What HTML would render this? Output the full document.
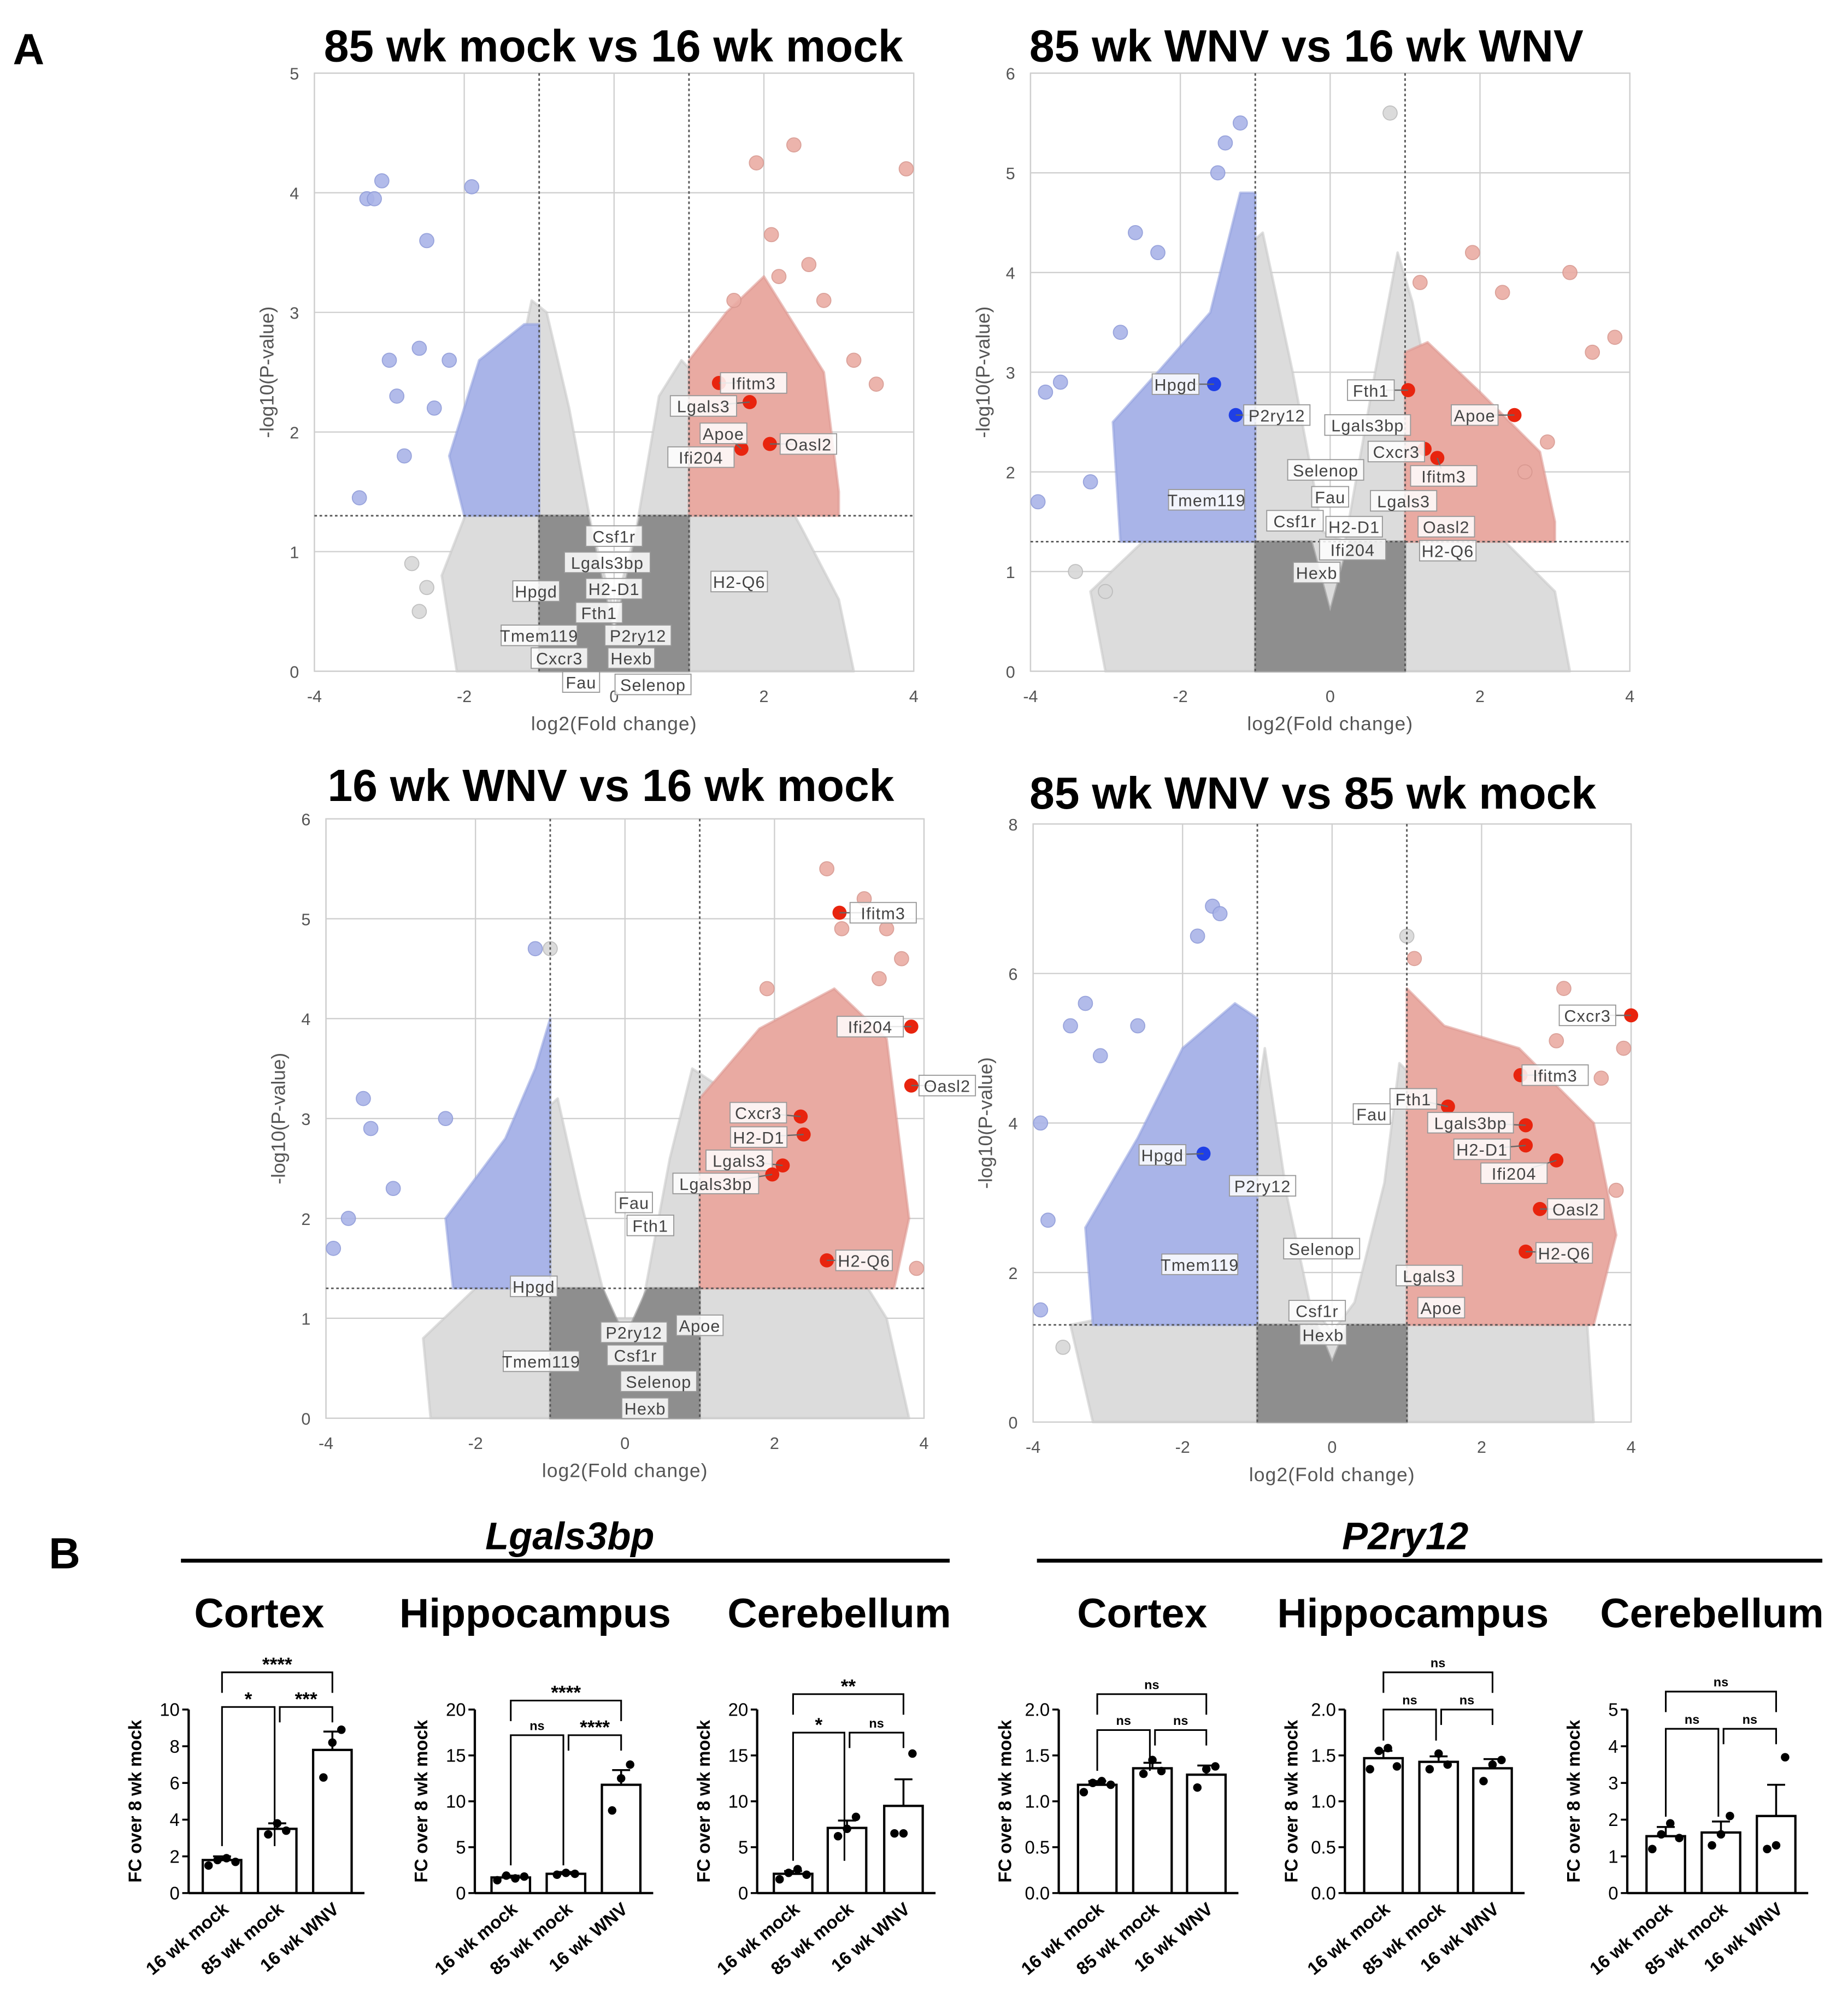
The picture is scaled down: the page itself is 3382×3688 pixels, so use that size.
<!DOCTYPE html>
<html><head><meta charset="utf-8">
<style>
html,body{margin:0;padding:0;background:#fff;}
svg{display:block;font-family:"Liberation Sans",sans-serif;}
</style></head>
<body>
<svg id="fig" xmlns="http://www.w3.org/2000/svg" width="3382" height="3688" viewBox="0 0 1440 1570" preserveAspectRatio="none">
<rect width="1440" height="1570" fill="#fff"/>
<text x="10" y="50" font-size="34" font-weight="bold">A</text>
<text x="38" y="1222" font-size="34" font-weight="bold">B</text>
<g id="volc"></g>
<g id="bars"></g>
</svg>
<script>
const NS='http://www.w3.org/2000/svg';
function mk(tag,attrs,parent,txt){const e=document.createElementNS(NS,tag);for(const k in attrs)e.setAttribute(k,attrs[k]);if(txt!==undefined)e.textContent=txt;parent.appendChild(e);return e;}

/* ---------- Volcano data ---------- */
const p1Titles="85 wk mock vs 16 wk mock";
const p2Titles="85 wk WNV vs 16 wk WNV";
const p3Titles="16 wk WNV vs 16 wk mock";
const p4Titles="85 wk WNV vs 85 wk mock";
const p1Genes=["Ifitm3","Lgals3","Apoe","Oasl2","Ifi204","Csf1r","Lgals3bp","H2-D1","Hpgd","Fth1","H2-Q6","Tmem119","P2ry12","Cxcr3","Hexb","Fau","Selenop"];
const p1X=[1.40,1.81,1.70,2.08,1.16,0,-0.09,0,-1.04,-0.2,1.67,-1,0.32,-0.73,0.23,-0.44,0.52];
const p1Y=[2.41,2.25,1.86,1.90,1.79,1.13,0.91,0.69,0.67,0.49,0.75,0.30,0.30,0.11,0.11,-0.09,-0.11];
const p1Hl=["r","r","r","r","","","","","","","","","","","","",""];
const p1Off=[[27,0],[-36,3],[-14,-12],[30,0]];
const p2Genes=["Hpgd","P2ry12","Fth1","Apoe","Cxcr3","Ifitm3","Lgals3bp","Selenop","Fau","Lgals3","Tmem119","Csf1r","H2-D1","Oasl2","Ifi204","H2-Q6","Hexb"];
const p2X=[-1.55,-1.26,1.04,2.46,1.26,1.43,0.5,-0.06,0,0.98,-1.65,-0.47,0.32,1.55,0.3,1.57,-0.18];
const p2Y=[2.88,2.57,2.82,2.57,2.23,2.14,2.47,2.02,1.75,1.71,1.72,1.51,1.45,1.45,1.22,1.21,0.99];
const p2Hl=["b","b","r","r","r","r","","","","","","","","","","",""];
const p2Off=[[-30,0],[32,0],[-29,0],[-31,0],[-22,2],[5,14]];
const p3Genes=["Ifitm3","Ifi204","Oasl2","Cxcr3","H2-D1","Lgals3","Lgals3bp","H2-Q6","Fau","Fth1","Hpgd","P2ry12","Apoe","Csf1r","Tmem119","Selenop","Hexb"];
const p3X=[2.87,3.83,3.83,2.35,2.39,2.11,1.97,2.70,0.12,0.34,-1.22,0.12,1.0,0.14,-1.12,0.45,0.27];
const p3Y=[5.06,3.92,3.33,3.02,2.84,2.53,2.44,1.58,2.16,1.93,1.32,0.86,0.93,0.63,0.57,0.37,0.10];
const p3Hl=["r","r","r","r","r","r","r","r","","","","","","","","",""];
const p3Off=[[34,0],[-32,0],[28,0],[-33,-3],[-35,2],[-34,-4],[-44,7],[29,0]];
const p4Genes=["Cxcr3","Ifitm3","Fth1","Lgals3bp","H2-D1","Ifi204","Oasl2","H2-Q6","Hpgd","Fau","P2ry12","Tmem119","Selenop","Lgals3","Apoe","Csf1r","Hexb"];
const p4X=[4.0,2.52,1.55,2.59,2.59,3.0,2.78,2.59,-1.72,0.53,-0.93,-1.77,-0.14,1.3,1.46,-0.2,-0.12];
const p4Y=[5.44,4.64,4.22,3.97,3.70,3.5,2.85,2.28,3.59,4.12,3.16,2.11,2.32,1.96,1.53,1.49,1.17];
const p4Hl=["r","r","r","r","r","r","r","r","b","","","","","","","",""];
const p4Off=[[-34,0],[27,0],[-27,-6],[-43,-2],[-34,3],[-33,10],[28,0],[30,1],[-32,1]];

/* density envelopes (traced shapes) */
const p1Light=[[-2.1,0],[-2.3,0.8],[-1.8,1.6],[-1.4,2.2],[-1.1,3.1],[-0.9,3.0],[-0.6,2.2],[-0.3,1.2],[0,0.5],[0.3,1.2],[0.6,2.3],[0.9,2.6],[1.2,2.4],[1.8,2.0],[2.5,1.2],[3,0.6],[3.2,0]];
const p1Blue=[[-2,1.3],[-2.2,1.8],[-1.8,2.6],[-1.2,2.9],[-1,2.9],[-1,1.3]];
const p1Red=[[1,1.3],[1,2.6],[1.5,3.0],[2,3.3],[2.8,2.5],[3,1.5],[3,1.3]];
const p1Dark=[[-1,0],[-1,1.3],[-0.35,1.3],[0,0.3],[0.35,1.3],[1,1.3],[1,0]];
const p2Light=[[-3,0],[-3.2,0.8],[-2.5,1.3],[-1.6,2.5],[-1.2,4.2],[-0.9,4.4],[-0.5,3],[-0.1,1.4],[0.2,1.3],[0.6,3],[0.9,4.2],[1.1,3.7],[1.4,2.5],[2.2,1.4],[3,0.8],[3.2,0]];
const p2Blue=[[-2.8,1.3],[-2.9,2.5],[-2.3,3.0],[-1.6,3.6],[-1.2,4.8],[-1,4.8],[-1,1.3]];
const p2Red=[[1,1.3],[1,3.2],[1.3,3.3],[2,2.8],[2.8,2.2],[3,1.5],[3,1.3]];
const p2Dark=[[-1,0],[-1,1.3],[-0.25,1.3],[0,0.6],[0.25,1.3],[1,1.3],[1,0]];
const p3Light=[[-2.6,0],[-2.7,0.8],[-2,1.3],[-1.2,3.0],[-0.9,3.2],[-0.6,2.2],[-0.2,1],[0.2,1.0],[0.6,2.6],[0.9,3.5],[1.3,3.3],[2.5,2.2],[3.5,1],[3.8,0]];
const p3Blue=[[-2.3,1.3],[-2.4,2.0],[-1.6,2.8],[-1.2,3.5],[-1,4.0],[-1,1.3]];
const p3Red=[[1,1.3],[1,3.2],[1.8,3.9],[2.8,4.3],[3.5,3.8],[3.8,2],[3.6,1.3]];
const p3Dark=[[-1,0],[-1,1.3],[-0.3,1.3],[0,0.8],[0.3,1.3],[1,1.3],[1,0]];
const p4Light=[[-3.2,0],[-3.5,1.3],[-2,1.6],[-1.2,3],[-0.9,5],[-0.6,3],[-0.3,1.6],[0,1.2],[0.3,1.6],[0.7,3.2],[0.9,4.8],[1.2,4.5],[2.2,3],[3.4,1.5],[3.5,0]];
const p4Blue=[[-3.2,1.3],[-3.3,2.6],[-2.6,3.8],[-2,5],[-1.3,5.6],[-1,5.4],[-1,1.3]];
const p4Red=[[1,1.3],[1,5.8],[1.5,5.3],[2.5,5.0],[3.5,4],[3.8,2.5],[3.5,1.3]];
const p4Dark=[[-1,0],[-1,1.3],[-0.2,1.3],[0,0.8],[0.2,1.3],[1,1.3],[1,0]];

/* sparse outlying points */
const p1SpX=[-3.3,-3.2,-3.1,-2.5,-1.9,-3.4,-2.9,-2.6,-2.4,-2.8,-3.0,-2.2,1.9,2.4,2.1,3.9,2.6,2.8,3.2,3.5,-2.7,-2.5,-2.6,2.2,1.6];
const p1SpY=[3.95,3.95,4.1,3.6,4.05,1.45,2.3,2.7,2.2,1.8,2.6,2.6,4.25,4.4,3.65,4.2,3.4,3.1,2.6,2.4,0.9,0.7,0.5,3.3,3.1];
const p2SpX=[-2.6,-2.3,-2.8,-3.6,-3.8,-3.2,-1.4,-1.2,-1.5,1.9,2.3,3.2,3.8,3.5,-3.9,-3.0,-3.4,0.8,1.2,2.6,2.9];
const p2SpY=[4.4,4.2,3.4,2.9,2.8,1.9,5.3,5.5,5.0,4.2,3.8,4.0,3.35,3.2,1.7,0.8,1.0,5.6,3.9,2.0,2.3];
const p3SpX=[-3.5,-3.4,-3.7,-3.9,-1.2,-1.0,-2.4,3.5,3.7,3.2,2.7,1.9,-3.1,3.9,2.9,3.4];
const p3SpY=[3.2,2.9,2.0,1.7,4.7,4.7,3.0,4.9,4.6,5.2,5.5,4.3,2.3,1.5,4.9,4.4];
const p4SpX=[-3.5,-3.3,-3.1,-3.9,-3.8,-1.6,-1.5,-1.8,-2.6,3.9,3.6,3.8,3.1,1.0,1.1,3.0,-3.9,-3.6];
const p4SpY=[5.3,5.6,4.9,4.0,2.7,6.9,6.8,6.5,5.3,5.0,4.6,3.1,5.8,6.5,6.2,5.1,1.5,1.0];

const panels=[
 {name:"volcano-85wk-mock-vs-16wk-mock",title:p1Titles,tx:478,ty:48,x0:245,x1:712,yb:523,yt:57,ymax:5,genes:p1Genes,gx:p1X,gy:p1Y,hl:p1Hl,off:p1Off,light:p1Light,blue:p1Blue,red:p1Red,dark:p1Dark,spx:p1SpX,spy:p1SpY},
 {name:"volcano-85wk-wnv-vs-16wk-wnv",title:p2Titles,tx:1018,ty:48,x0:803,x1:1270,yb:523,yt:57,ymax:6,genes:p2Genes,gx:p2X,gy:p2Y,hl:p2Hl,off:p2Off,light:p2Light,blue:p2Blue,red:p2Red,dark:p2Dark,spx:p2SpX,spy:p2SpY},
 {name:"volcano-16wk-wnv-vs-16wk-mock",title:p3Titles,tx:476,ty:624,x0:254,x1:720,yb:1105,yt:638,ymax:6,genes:p3Genes,gx:p3X,gy:p3Y,hl:p3Hl,off:p3Off,light:p3Light,blue:p3Blue,red:p3Red,dark:p3Dark,spx:p3SpX,spy:p3SpY},
 {name:"volcano-85wk-wnv-vs-85wk-mock",title:p4Titles,tx:1023,ty:630,x0:805,x1:1271,yb:1108,yt:642,ymax:8,genes:p4Genes,gx:p4X,gy:p4Y,hl:p4Hl,off:p4Off,light:p4Light,blue:p4Blue,red:p4Red,dark:p4Dark,spx:p4SpX,spy:p4SpY}
];
const xTicks=[-4,-2,0,2,4];

const vroot=document.getElementById('volc');
panels.forEach(p=>{
  const g=mk('g',{},vroot);
  
  
  const X=v=>p.x0+(v+4)/8*(p.x1-p.x0);
  const Y=v=>p.yb-v/p.ymax*(p.yb-p.yt);
  const t=mk('text',{x:p.tx,y:p.ty,'font-size':35,'font-weight':'bold','text-anchor':'middle'},g,p.title);
  
  mk('rect',{x:p.x0,y:p.yt,width:p.x1-p.x0,height:p.yb-p.yt,fill:'#fff',stroke:'#ccc','stroke-width':1},g);
  xTicks.forEach(v=>{mk('line',{x1:X(v),x2:X(v),y1:p.yt,y2:p.yb,stroke:'#cfcfcf','stroke-width':1},g);
    const tl=mk('text',{x:X(v),y:p.yb+24,'font-size':13,fill:'#555','text-anchor':'middle'},g,String(v));
    });
  const step=p.ymax===8?2:1;
  for(let v=0;v<=p.ymax;v+=step){mk('line',{x1:p.x0,x2:p.x1,y1:Y(v),y2:Y(v),stroke:'#cfcfcf','stroke-width':1},g);
    const tl=mk('text',{x:p.x0-12,y:Y(v)+5,'font-size':13,fill:'#555','text-anchor':'end'},g,String(v));
    }
  const poly=(pts,fill,stroke,name)=>{const e=mk('polygon',{points:pts.map(q=>X(q[0])+','+Y(q[1])).join(' '),fill:fill,stroke:stroke,'stroke-width':2,'stroke-opacity':0.6,'stroke-linejoin':'round'},g);
    };
  poly(p.light,'#dcdcdc','#c9c9c9','ns-gene-cloud');
  poly(p.blue,'#a9b4e8','#96a3e0','down-regulated-cloud');
  poly(p.red,'#e9aaa2','#dd9a92','up-regulated-cloud');
  poly(p.dark,'#8e8e8e','#8e8e8e','low-fc-cloud');
  p.spx.forEach((vx,i)=>{const vy=p.spy[i];const col=vy<1.3?'#d8d8d8':(vx<-1?'#aab4e8':(vx>1?'#eaaca4':'#d8d8d8'));
    const c=mk('circle',{cx:X(vx),cy:Y(vy),r:5.5,fill:col,stroke:col==='#d8d8d8'?'#bbb':(vx<0?'#8e9bd9':'#d89890'),'stroke-width':0.8,opacity:0.9},g);
    });
  [-1,1].forEach(v=>mk('line',{x1:X(v),x2:X(v),y1:p.yt,y2:p.yb,stroke:'#555','stroke-width':1.2,'stroke-dasharray':'2,2'},g));
  mk('line',{x1:p.x0,x2:p.x1,y1:Y(1.3),y2:Y(1.3),stroke:'#555','stroke-width':1.2,'stroke-dasharray':'2,2'},g);
  p.genes.forEach((nm,i)=>{const cx=X(p.gx[i]),cy=Y(p.gy[i]);const o=p.off[i]||[0,0];
    if(p.hl[i]){const c=mk('circle',{cx:cx,cy:cy,r:5.5,fill:p.hl[i]==='r'?'#e8240e':'#1f3fe6'},g);
      
      mk('line',{x1:cx,y1:cy,x2:cx+o[0]*0.6,y2:cy+o[1]*0.6,stroke:'#666','stroke-width':1},g);}
    const lx=cx+o[0],ly=cy+o[1];const w=nm.length*7.6+6;
    mk('rect',{x:lx-w/2,y:ly-8,width:w,height:16,fill:'#fff','fill-opacity':0.85,stroke:'#999','stroke-width':0.8},g);
    const tl=mk('text',{x:lx,y:ly+5,'font-size':13,fill:'#444','text-anchor':'middle','letter-spacing':'0.5'},g,nm);
    });
  const xl=mk('text',{x:(p.x0+p.x1)/2,y:p.yb+46,'font-size':15,fill:'#555','text-anchor':'middle','letter-spacing':'0.5'},g,'log2(Fold change)');
  
  const yl=mk('text',{x:0,y:0,'font-size':15,fill:'#555','text-anchor':'middle',transform:`translate(${p.x0-32},${(p.yt+p.yb)/2}) rotate(-90)`},g,'-log10(P-value)');
  
});

/* ---------- Bar chart data ---------- */
const groups=["16 wk mock","85 wk mock","16 wk WNV"];
const b1Means=[1.8,3.5,7.8];const b1Err=[0.2,0.3,1.0];const b1Pts=[[1.5,1.8,1.9,1.7],[3.2,3.8,3.4],[6.3,8.2,8.9]];
const b2Means=[1.7,2.1,11.8];const b2Err=[0.2,0.2,1.6];const b2Pts=[[1.4,1.9,1.6,1.8],[2.0,2.2,2.1],[9.0,12.5,14.0]];
const b3Means=[2.1,7.1,9.5];const b3Err=[0.3,0.8,2.9];const b3Pts=[[1.5,2.2,2.6,2.0],[6.2,7.0,8.3],[6.5,6.5,15.2]];
const b4Means=[1.18,1.36,1.29];const b4Err=[0.04,0.06,0.1];const b4Pts=[[1.1,1.2,1.22,1.18],[1.3,1.45,1.33],[1.15,1.35,1.38]];
const b5Means=[1.47,1.43,1.36];const b5Err=[0.08,0.06,0.1];const b5Pts=[[1.35,1.55,1.58,1.38],[1.35,1.52,1.40],[1.22,1.40,1.45]];
const b6Means=[1.55,1.65,2.1];const b6Err=[0.25,0.3,0.85];const b6Pts=[[1.2,1.6,1.9,1.5],[1.3,1.6,2.1],[1.2,1.3,3.7]];
const b1Ticks=["0","2","4","6","8","10"];const b2Ticks=["0","5","10","15","20"];const b3Ticks=b2Ticks;
const b4Ticks=["0.0","0.5","1.0","1.5","2.0"];const b5Ticks=b4Ticks;const b6Ticks=["0","1","2","3","4","5"];
const b1Sig=["****","*","***"];const b2Sig=["****","ns","****"];const b3Sig=["**","*","ns"];
const b4Sig=["ns","ns","ns"];const b5Sig=["ns","ns","ns"];const b6Sig=["ns","ns","ns"];

const charts=[
 {name:"lgals3bp-cortex",title:"Cortex",tx:202,ax:147,bx:[173,216,259],ymax:10,ticks:b1Ticks,m:b1Means,e:b1Err,pts:b1Pts,sig:b1Sig,oy:1303,iy:1330},
 {name:"lgals3bp-hippocampus",title:"Hippocampus",tx:417,ax:370,bx:[398,441,484],ymax:20,ticks:b2Ticks,m:b2Means,e:b2Err,pts:b2Pts,sig:b2Sig,oy:1325,iy:1352},
 {name:"lgals3bp-cerebellum",title:"Cerebellum",tx:654,ax:590,bx:[618,660,704],ymax:20,ticks:b3Ticks,m:b3Means,e:b3Err,pts:b3Pts,sig:b3Sig,oy:1320,iy:1350},
 {name:"p2ry12-cortex",title:"Cortex",tx:890,ax:825,bx:[855,898,940],ymax:2,ticks:b4Ticks,m:b4Means,e:b4Err,pts:b4Pts,sig:b4Sig,oy:1320,iy:1348},
 {name:"p2ry12-hippocampus",title:"Hippocampus",tx:1101,ax:1048,bx:[1078,1121,1163],ymax:2,ticks:b5Ticks,m:b5Means,e:b5Err,pts:b5Pts,sig:b5Sig,oy:1303,iy:1332},
 {name:"p2ry12-cerebellum",title:"Cerebellum",tx:1334,ax:1268,bx:[1298,1341,1384],ymax:5,ticks:b6Ticks,m:b6Means,e:b6Err,pts:b6Pts,sig:b6Sig,oy:1318,iy:1347}
];
const broot=document.getElementById('bars');
[["Lgals3bp",444,141,740],["P2ry12",1095,808,1420]].forEach(h=>{
  const t=mk('text',{x:h[1],y:1207,'font-size':30,'font-weight':'bold','font-style':'italic','text-anchor':'middle'},broot,h[0]);
  
  mk('line',{x1:h[2],x2:h[3],y1:1216,y2:1216,stroke:'#000','stroke-width':3},broot);});
charts.forEach(c=>{
  const g=mk('g',{},broot);
  
  
  const yb=1475,yt=1332;const Y=v=>yb-v/c.ymax*(yb-yt);
  const t=mk('text',{x:c.tx,y:1268,'font-size':32,'font-weight':'bold','text-anchor':'middle'},g,c.title);
  
  mk('line',{x1:c.ax,x2:c.ax,y1:yt,y2:yb,stroke:'#000','stroke-width':1.8},g);
  mk('line',{x1:c.ax,x2:c.bx[2]+25,y1:yb,y2:yb,stroke:'#000','stroke-width':1.8},g);
  const n=c.ticks.length-1;
  c.ticks.forEach((lab,i)=>{const v=i*c.ymax/n;const y=Y(v);
    mk('line',{x1:c.ax-5,x2:c.ax,y1:y,y2:y,stroke:'#000','stroke-width':1.5},g);
    const tl=mk('text',{x:c.ax-7,y:y+5,'font-size':14,'text-anchor':'end'},g,lab);
    });
  const yl=mk('text',{x:0,y:0,'font-size':14,'font-weight':'bold','text-anchor':'middle',transform:`translate(${c.ax-37},${(yt+yb)/2}) rotate(-90)`},g,'FC over 8 wk mock');
  
  c.bx.forEach((x,i)=>{
    const b=mk('rect',{x:x-15,y:Y(c.m[i]),width:30,height:yb-Y(c.m[i]),fill:'#fff',stroke:'#000','stroke-width':1.8},g);
    
    const ye=Y(c.m[i]+c.e[i]);
    mk('line',{x1:x,x2:x,y1:Y(c.m[i]),y2:ye,stroke:'#000','stroke-width':1.5},g);
    mk('line',{x1:x-7,x2:x+7,y1:ye,y2:ye,stroke:'#000','stroke-width':1.5},g);
    const np=c.pts[i].length;
    c.pts[i].forEach((v,j)=>{const dx=(j-(np-1)/2)*7;
      const d=mk('circle',{cx:x+dx,cy:Y(v),r:3.3,fill:'#000'},g);
      });
    const xl=mk('text',{x:0,y:0,'font-size':14,'font-weight':'bold','text-anchor':'end',transform:`translate(${x+6},${yb+14}) rotate(-40)`},g,groups[i]);
    
  });
  const br=(xa,xb,y,lab,drop)=>{mk('polyline',{points:`${xa},${y+drop} ${xa},${y} ${xb},${y} ${xb},${y+drop}`,fill:'none',stroke:'#000','stroke-width':1.3},g);
    const ns=lab==='ns';
    const s=mk('text',{x:(xa+xb)/2,y:ns?y-4:y-1,'font-size':ns?10:15,'font-weight':'bold','text-anchor':'middle'},g,lab);
    };
  br(c.bx[0],c.bx[2],c.oy,c.sig[0],16);
  br(c.bx[0],c.bx[1]-2,c.iy,c.sig[1],Math.max(10,Y(c.m[0]+c.e[0])-c.iy-8));
  br(c.bx[1]+2,c.bx[2],c.iy,c.sig[2],12);
});
</script>
</body></html>
